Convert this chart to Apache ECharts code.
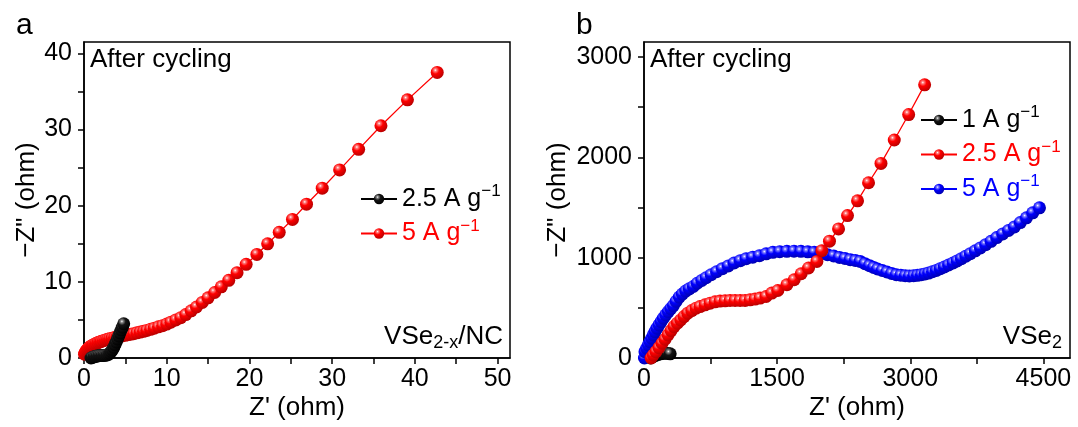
<!DOCTYPE html>
<html><head><meta charset="utf-8">
<script src="https://cdn.jsdelivr.net/npm/echarts@6/dist/echarts.min.js"></script>
<style>html,body{margin:0;padding:0;background:#fff}#c{width:1078px;height:427px}</style>
</head><body><div id="c"></div>
<script>
const FONT = '"Liberation Sans", Arial, Helvetica, sans-serif';

// ---------- Panel a (VSe2-x/NC) : [Z', -Z''] ----------
const aBlack = [[0.85,0.0],[1.0,0.08],[1.2,0.16],[1.4,0.22],[1.6,0.27],[1.8,0.3],[2.0,0.32],[2.2,0.33],[2.4,0.34],[2.6,0.36],[2.8,0.4],[3.0,0.5],[3.15,0.65],[3.3,0.85],[3.45,1.1],[3.6,1.4],[3.75,1.75],[3.9,2.1],[4.05,2.5],[4.2,2.9],[4.35,3.3],[4.5,3.7],[4.65,4.05],[4.8,4.5]];
const aRed = [[0.06,0.5],[0.15,0.75],[0.26,0.93],[0.38,1.1],[0.5,1.25],[0.65,1.4],[0.8,1.52],[0.95,1.62],[1.1,1.72],[1.3,1.83],[1.5,1.93],[1.7,2.02],[1.9,2.11],[2.1,2.19],[2.35,2.28],[2.6,2.37],[2.85,2.45],[3.1,2.53],[3.4,2.6],[3.7,2.68],[4.0,2.75],[4.3,2.83],[4.6,2.9],[4.95,2.98],[5.3,3.05],[5.65,3.13],[6.0,3.2],[6.4,3.3],[6.8,3.4],[7.2,3.5],[7.6,3.62],[8.05,3.77],[8.5,3.92],[9.0,4.1],[9.5,4.25],[10.0,4.45],[10.5,4.7],[11.1,5.0],[11.7,5.3],[12.3,5.7],[12.96,6.2],[13.6,6.7],[14.3,7.3],[15.0,7.9],[15.8,8.6],[16.6,9.35],[17.5,10.2],[18.5,11.2],[19.6,12.3],[20.9,13.6],[22.2,15.0],[23.6,16.5],[25.2,18.2],[26.9,20.2],[28.8,22.3],[30.9,24.7],[33.2,27.4],[35.9,30.5],[39.1,33.9],[42.7,37.5]];

// ---------- Panel b (VSe2) ----------
const bBlack = [[75,0],[95,10],[115,20],[135,28],[160,36],[185,42],[210,46],[240,47],[270,45],[295,42]];
const bRed = [[80,0],[105,30],[135,63],[169,103],[203,147],[237,187],[271,230],[305,273],[338,313],[376,347],[414,380],[451,413],[493,447],[538,473],[587,497],[632,513],[688,530],[745,547],[801,560],[857,567],[914,570],[970,573],[1026,573],[1083,573],[1139,573],[1196,580],[1252,587],[1308,597],[1376,613],[1440,647],[1508,673],[1610,730],[1692,780],[1771,840],[1854,897],[1948,963],[2004,1070],[2090,1165],[2192,1287],[2293,1420],[2406,1567],[2530,1747],[2670,1940],[2820,2173],[2982,2427],[3162,2723]];
const bBlue = [[5,0],[11,63],[30,97],[49,130],[68,163],[87,197],[105,230],[124,263],[146,297],[169,330],[193,363],[218,397],[245,430],[274,463],[302,493],[331,523],[362,565],[398,607],[432,637],[470,667],[510,690],[556,713],[600,745],[651,773],[700,800],[756,830],[818,860],[883,890],[950,918],[1015,947],[1085,970],[1151,990],[1225,1005],[1301,1020],[1376,1038],[1452,1053],[1530,1060],[1610,1063],[1690,1065],[1768,1063],[1845,1058],[1918,1053],[1995,1043],[2068,1030],[2138,1017],[2203,1003],[2265,992],[2324,980],[2382,972],[2436,963],[2490,940],[2542,920],[2588,903],[2632,887],[2685,872],[2738,857],[2790,843],[2843,830],[2894,825],[2944,820],[2990,818],[3038,820],[3082,824],[3125,830],[3167,838],[3207,847],[3250,860],[3294,873],[3338,890],[3384,907],[3432,927],[3482,947],[3528,968],[3576,990],[3626,1015],[3677,1040],[3733,1068],[3790,1097],[3850,1130],[3911,1163],[3975,1200],[4042,1237],[4108,1272],[4174,1307],[4240,1350],[4309,1397],[4380,1447],[4456,1497]];

// ---------- Axis ticks / labels ----------
const aXLabels = [0,10,20,30,40,50];
const aXTicks  = [0,5,10,15,20,25,30,35,40,45,50];
const aYLabels = [0,10,20,30,40];
const aYTicks  = [0,5,10,15,20,25,30,35,40];
const bXLabels = [0,1500,3000,4500];
const bXTicks  = [0,750,1500,2250,3000,3750,4500];
const bYLabels = [0,1000,2000,3000];
const bYTicks  = [0,500,1000,1500,2000,2500,3000];

// legend texts
const aLegend = ['2.5 A g', '5 A g'];
const bLegend = ['1 A g', '2.5 A g', '5 A g'];
const supText = '\u22121';

function ball(light, base, dark) {
  return {type:'radial', x:0.36, y:0.32, r:0.7, colorStops:[
    {offset:0, color:'#ffffff'}, {offset:0.14, color:light}, {offset:0.42, color:base}, {offset:1, color:dark}]};
}
const RED = '#ff0000', BLACK = '#000000', BLUE = '#0000ff';
const redBall = ball('#ff8080', '#ff0000', '#b80000');
const blackBall = ball('#8a8a8a', '#141414', '#000000');
const blueBall = ball('#8080ff', '#0000ff', '#0000b0');

const axisCommon = {
  axisLine: {show:true, lineStyle:{color:'#000', width:1.5}},
  axisTick: {show:true, inside:false, length:6, lineStyle:{color:'#000', width:1.5}},
  splitLine: {show:false},
  axisLabel: {color:'#000', fontSize:25, fontFamily:FONT}
};
const plainNum = v => String(v);
function xAxis(idx, max, labels, ticks) {
  return Object.assign({}, axisCommon, {
    type:'value', gridIndex:idx, min:0, max:max,
    name:"Z' (ohm)", nameLocation:'middle', nameGap:37, nameMoveOverlap:false,
    nameTextStyle:{color:'#000', fontSize:26, fontFamily:FONT},
    axisTick: Object.assign({}, axisCommon.axisTick, {customValues: ticks}),
    axisLabel: Object.assign({}, axisCommon.axisLabel, {customValues: labels, margin:9, formatter: plainNum})
  });
}
function yAxis(idx, max, labels, ticks, gap) {
  return Object.assign({}, axisCommon, {
    type:'value', gridIndex:idx, min:0, max:max,
    name:'\u2212Z" (ohm)', nameLocation:'middle', nameGap:gap, nameMoveOverlap:false,
    nameTextStyle:{color:'#000', fontSize:26, fontFamily:FONT},
    axisTick: Object.assign({}, axisCommon.axisTick, {customValues: ticks}),
    axisLabel: Object.assign({}, axisCommon.axisLabel, {customValues: labels, margin:12, formatter: plainNum})
  });
}
function series(name, data, gi, color, fill) {
  return {name:name, type:'line', xAxisIndex:gi, yAxisIndex:gi, data:data,
    symbol:'circle', symbolSize:13, showSymbol:true,
    lineStyle:{color:color, width:1.3}, itemStyle:{color:fill},
    animation:false, emphasis:{disabled:true}};
}
const legendRich = {
  k:{color:'#000', fontSize:25, fontFamily:FONT, lineHeight:32},
  ks:{color:'#000', fontSize:17, fontFamily:FONT, verticalAlign:'top', lineHeight:18},
  r:{color:RED, fontSize:25, fontFamily:FONT, lineHeight:32},
  rs:{color:RED, fontSize:17, fontFamily:FONT, verticalAlign:'top', lineHeight:18},
  b:{color:BLUE, fontSize:25, fontFamily:FONT, lineHeight:32},
  bs:{color:BLUE, fontSize:17, fontFamily:FONT, verticalAlign:'top', lineHeight:18}
};
const legendMap = {
  a25:['k', aLegend[0]], a5:['r', aLegend[1]],
  b1:['k', bLegend[0]], b25:['r', bLegend[1]], b5:['b', bLegend[2]]
};
function legendFmt(n) { const m = legendMap[n]; return '{' + m[0] + '|' + m[1] + '}{' + m[0] + 's|' + supText + '}'; }

const titleStyle = {color:'#000', fontSize:26, fontFamily:FONT, fontWeight:'normal'};
const subRich = {sub:{fontSize:18, fontFamily:FONT, color:'#000', verticalAlign:'bottom', padding:[13,0,0,0]},
                 m:{fontSize:26, fontFamily:FONT, color:'#000', lineHeight:30}};

const option = {
  backgroundColor:'#fff',
  animation:false,
  grid:[
    {left:84, top:42, width:426, height:316, show:true, borderColor:'#000', borderWidth:1.5, backgroundColor:'transparent'},
    {left:644, top:42, width:426, height:316, show:true, borderColor:'#000', borderWidth:1.5, backgroundColor:'transparent'}
  ],
  xAxis:[ xAxis(0, 51.5, aXLabels, aXTicks), xAxis(1, 4800, bXLabels, bXTicks) ],
  yAxis:[ yAxis(0, 41.5, aYLabels, aYTicks, 44), yAxis(1, 3150, bYLabels, bYTicks, 73) ],
  title:[
    {text:'a', left:11, top:6, textStyle:{color:'#000', fontSize:30, fontFamily:FONT, fontWeight:'normal'}},
    {text:'b', left:571, top:6, textStyle:{color:'#000', fontSize:30, fontFamily:FONT, fontWeight:'normal'}},
    {text:'After cycling', left:85, top:42, textStyle:titleStyle},
    {text:'After cycling', left:645, top:42, textStyle:titleStyle},
    {text:'{m|VSe}{sub|2-x}{m|/NC}', right:570, top:316, textStyle:Object.assign({}, titleStyle, {rich:subRich})},
    {text:'{m|VSe}{sub|2}', right:11, top:316, textStyle:Object.assign({}, titleStyle, {rich:subRich})}
  ],
  legend:[
    {data:['a25','a5'], orient:'vertical', left:355, top:178, itemWidth:36, itemHeight:13, itemGap:6,
     formatter:legendFmt, textStyle:{rich:legendRich}, selectedMode:false},
    {data:['b1','b25','b5'], orient:'vertical', left:915, top:99, itemWidth:36, itemHeight:13, itemGap:6,
     formatter:legendFmt, textStyle:{rich:legendRich}, selectedMode:false}
  ],
  series:[
    series('a5', aRed, 0, RED, redBall),
    series('a25', aBlack, 0, BLACK, blackBall),
    series('b1', bBlack, 1, BLACK, blackBall),
    series('b5', bBlue, 1, BLUE, blueBall),
    series('b25', bRed, 1, RED, redBall)
  ]
};
const chart = echarts.init(document.getElementById('c'), null, {renderer:'canvas'});
chart.setOption(option);
</script></body></html>
